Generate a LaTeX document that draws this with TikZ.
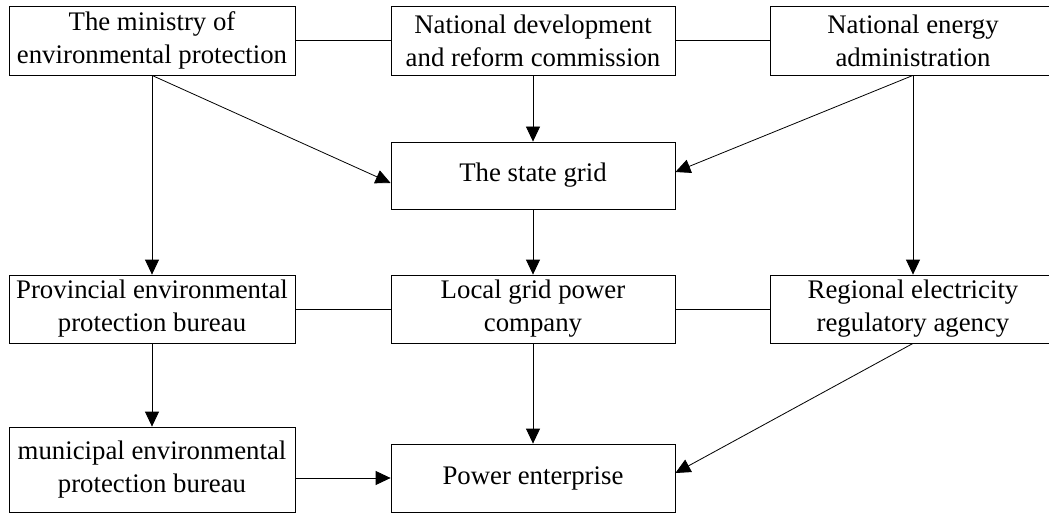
\documentclass[tikz,border=0pt]{standalone}
\usepackage{fontspec}
\setmainfont{Liberation Serif}
\usetikzlibrary{arrows.meta}
\begin{document}
\begin{tikzpicture}[x=1pt,y=-1pt,
  box/.style={draw=black, line width=0.8pt, rectangle, inner sep=0pt, align=center,
    minimum width=286pt, minimum height=69pt,
    font=\fontsize{26.8pt}{33pt}\selectfont},
  conn/.style={draw=black, line width=0.8pt},
  arr/.style={conn, -{Triangle[length=15pt,width=14pt]}}]
\useasboundingbox (0,0) rectangle (1049,513);
\fill[white] (0,0) rectangle (1049,513);
% top row
\node[box] (min) at (152,40.5) {The ministry of\\environmental protection};
\node[box, minimum width=284pt] (ndrc) at (533,40.5) {National development\\and reform commission};
\node[box] (nea) at (913,40.5) {National energy\\administration};
% state grid
\node[box, minimum width=284pt, minimum height=67pt] (grid) at (533,175.5) {The state grid};
% middle row
\node[box, minimum height=68pt] (prov) at (152,309) {Provincial environmental\\protection bureau};
\node[box, minimum width=284pt, minimum height=68pt] (local) at (533,309) {Local grid power\\company};
\node[box, minimum height=68pt] (reg) at (913,309) {Regional electricity\\regulatory agency};
% bottom row
\node[box, minimum height=85pt] (muni) at (152,469.5) {municipal environmental\\protection bureau};
\node[box, minimum width=284pt, minimum height=68pt] (power) at (533,478) {Power enterprise};
% horizontal links
\draw[conn] (min.east) -- (ndrc.west);
\draw[conn] (ndrc.east) -- (nea.west);
\draw[conn] (prov.east) -- (local.west);
\draw[conn] (local.east) -- (reg.west);
% arrows
\draw[arr] (min.south) -- (prov.north);
\draw[arr] (min.south) -- ([yshift=-7.5pt]grid.west);
\draw[arr] (ndrc.south) -- (grid.north);
\draw[arr] (nea.south) -- ([yshift=3.5pt]grid.east);
\draw[arr] (nea.south) -- (reg.north);
\draw[arr] (grid.south) -- (local.north);
\draw[arr] (prov.south) -- (muni.north);
\draw[arr] (local.south) -- (power.north);
\draw[arr] (muni.east |- power.west) -- (power.west);
\draw[arr] (reg.south) -- ([yshift=5pt]power.east);
\end{tikzpicture}
\end{document}
